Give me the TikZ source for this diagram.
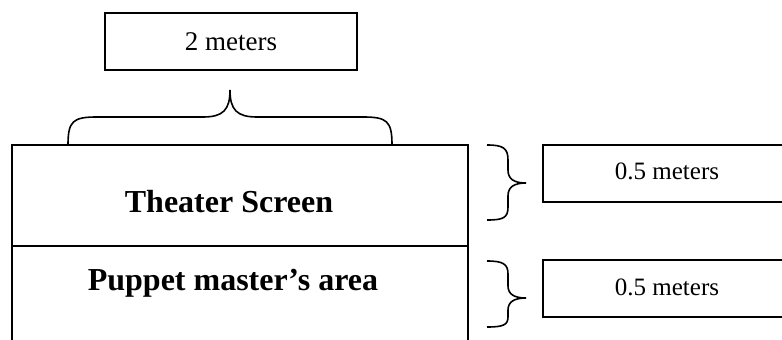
\documentclass[tikz,border=0pt]{standalone}
\usepackage{fontspec}
\setmainfont{Liberation Serif}
\begin{document}
\begin{tikzpicture}[x=1pt,y=-1pt,
  line/.style={line width=1.6pt,black},
  labelbox/.style={draw,line width=1.3pt,minimum height=57pt,inner sep=0pt},
  smalltext/.style={font=\fontsize{25}{30}\selectfont},
  areatext/.style={font=\bfseries\fontsize{32}{38}\selectfont},
  brace/.style={line width=1.6pt,black}]
\useasboundingbox (0,0) rectangle (782,340);
\clip (0,0) rectangle (782,340);
% main rectangle
\coordinate (tl) at (12,145);
\coordinate (tr) at (468,145);
\coordinate (bl) at (12,350);
\coordinate (br) at (468,350);
\coordinate (ml) at (12,246);
\coordinate (mr) at (468,246);
\draw[line] (bl) -- (tl) -- (tr) -- (br);
\draw[line] (ml) -- (mr);
\node[areatext] (screen) at (229,202) {Theater Screen};
\node[areatext] (puppet) at (233,283) {Puppet master’s area};
% label boxes
\node[labelbox,minimum width=252pt,font=\fontsize{27}{32}\selectfont] (two) at (231,41.5) {2 meters};
\node[labelbox,minimum width=247pt] (half1) at (666.5,173.5) {};
\node[smalltext] (half1t) at (667,171) {0.5 meters};
\node[labelbox,minimum width=247pt] (half2) at (666.5,288.5) {};
\node[smalltext] (half2t) at (667,287) {0.5 meters};
% top brace
\draw[brace] (68,145) .. controls (68,121) and (73,117) .. (97,117) -- (203,117)
  .. controls (223,117) and (230,110) .. (230,90)
  .. controls (230,110) and (237,117) .. (257,117) -- (363,117)
  .. controls (387,117) and (392,121) .. (392,145);
% right braces
\draw[brace] (487,145) .. controls (503,145) and (508,148) .. (508,160) -- (508,170)
  .. controls (508,179) and (514,183) .. (526,183)
  .. controls (514,183) and (508,187) .. (508,196) -- (508,207)
  .. controls (508,218) and (503,220) .. (487,220);
\draw[brace] (487,261) .. controls (503,261) and (508,264) .. (508,274) -- (508,286)
  .. controls (508,294) and (514,298) .. (526,298)
  .. controls (514,298) and (508,302) .. (508,310) -- (508,317)
  .. controls (508,325) and (503,327) .. (487,327);
\end{tikzpicture}
\end{document}
